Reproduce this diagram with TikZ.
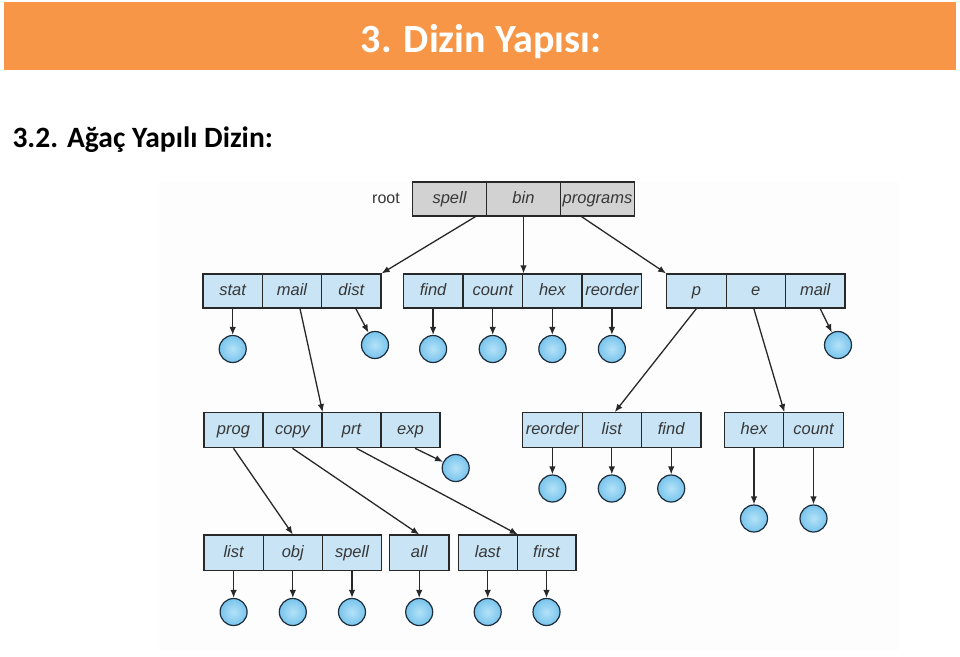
\documentclass[tikz,border=0pt]{standalone}
\usepackage{fontspec}
\setmainfont{Carlito}
\newfontfamily\diafont{Liberation Sans}
\usetikzlibrary{arrows.meta,calc}
\definecolor{barorange}{HTML}{F79646}
\definecolor{cellblue}{RGB}{200,228,245}
\definecolor{cellgray}{RGB}{210,210,210}
\definecolor{ballblue}{RGB}{120,196,236}
\definecolor{ballcore}{RGB}{180,226,248}
\definecolor{lineink}{RGB}{40,40,40}
\definecolor{ballink}{RGB}{30,45,60}
\definecolor{textink}{RGB}{55,55,55}
\definecolor{panel}{RGB}{253,253,253}
\tikzset{
  cell/.style={rectangle,draw=lineink,line width=1.2pt,fill=cellblue,inner sep=0pt,
    minimum width=#1,minimum height=34pt,text height=12pt,text depth=3.5pt,
    font=\diafont\itshape\fontsize{16.5}{18}\selectfont,text=textink},
  cell/.default=59.4pt,
  rootcell/.style={cell=74pt,fill=cellgray},
  ball/.style={circle,draw=ballink,line width=1.2pt,inner sep=0pt,minimum size=27pt,
    inner color=ballcore,outer color=ballblue},
  link/.style={draw=lineink,line width=1.3pt,-{Latex[length=8pt,width=6.5pt]}}
}
\begin{document}
\begin{tikzpicture}[x=1pt,y=-1pt]
\useasboundingbox (0,0) rectangle (960,656);
% header
\fill[barorange] (4,2) rectangle (956,70);
\node[anchor=base,text=white,font=\bfseries\fontsize{40}{44}\selectfont] (title) at (481,52.5) {3. Dizin Yapısı:};
\node[anchor=base west,font=\bfseries\fontsize{29.5}{33}\selectfont] (subtitle) at (9,147) {3.2. Ağaç Yapılı Dizin:};
% panel
\fill[panel] (159,182) rectangle (899,650);
% root row
\node[font=\diafont\fontsize{16}{18}\selectfont,text=textink] (root) at (386,198) {root};
\node[rootcell] (spell) at (449.5,199) {spell};
\node[rootcell] (bin) at (523.5,199) {bin};
\node[rootcell] (programs) at (597.5,199) {programs};
% row 2
\node[cell] (stat) at (232.7,291) {stat};
\node[cell] (mail) at (292.0,291) {mail};
\node[cell] (dist) at (351.3,291) {dist};
\node[cell] (find) at (433.1,291) {find};
\node[cell] (count) at (492.7,291) {count};
\node[cell] (hex) at (552.3,291) {hex};
\node[cell] (reorder) at (611.9,291) {reorder};
\node[cell] (p) at (696.4,291) {p};
\node[cell] (e) at (755.8,291) {e};
\node[cell] (pmail) at (815.2,291) {mail};
% row 3
\node[cell=59pt,minimum height=35pt] (prog) at (233.5,430.2) {prog};
\node[cell=59pt,minimum height=35pt] (copy) at (292.5,430.2) {copy};
\node[cell=59pt,minimum height=35pt] (prt) at (351.5,430.2) {prt};
\node[cell=59pt,minimum height=35pt] (exp) at (410.5,430.2) {exp};
\node[cell,minimum height=35pt] (preorder) at (552.4,430.2) {reorder};
\node[cell,minimum height=35pt] (plist) at (611.8,430.2) {list};
\node[cell,minimum height=35pt] (pfind) at (671.2,430.2) {find};
\node[cell=59.5pt,minimum height=35pt] (ehex) at (754.0,430.2) {hex};
\node[cell=59.5pt,minimum height=35pt] (ecount) at (813.5,430.2) {count};
% row 4
\node[cell=59.2pt,minimum height=35.5pt] (list) at (233.6,552.8) {list};
\node[cell=59.2pt,minimum height=35.5pt] (obj) at (292.8,552.8) {obj};
\node[cell=59.2pt,minimum height=35.5pt] (sspell) at (352.0,552.8) {spell};
\node[cell=59.7pt,minimum height=35.5pt] (all) at (419.2,552.8) {all};
\node[cell=58.8pt,minimum height=35.5pt] (last) at (487.7,552.8) {last};
\node[cell=58.8pt,minimum height=35.5pt] (first) at (546.5,552.8) {first};
% balls
\node[ball] (bstat) at (232.7,349) {};
\node[ball] (bdist) at (375,345) {};
\node[ball] (bfind) at (433.1,349) {};
\node[ball] (bcount) at (492.7,349) {};
\node[ball] (bhex) at (552.3,349) {};
\node[ball] (breorder) at (611.9,349) {};
\node[ball] (bpmail) at (838,345) {};
\node[ball] (bexp) at (455.7,468) {};
\node[ball] (bpreorder) at (552.4,488.5) {};
\node[ball] (bplist) at (611.8,488.5) {};
\node[ball] (bpfind) at (671.2,488.5) {};
\node[ball] (behex) at (754.0,518.5) {};
\node[ball] (becount) at (813.5,518.5) {};
\node[ball] (blist) at (233.6,612) {};
\node[ball] (bobj) at (292.8,612) {};
\node[ball] (bsspell) at (352.0,612) {};
\node[ball] (ball) at (419.2,612) {};
\node[ball] (blast) at (487.7,612) {};
\node[ball] (bfirst) at (546.5,612) {};
% links root -> row 2
\draw[link] ($(spell.south)+(26,0)$) -- (dist.north east);
\draw[link] (bin.south) -- (bin.south |- count.north);
\draw[link] ($(programs.south)+(-16,0)$) -- (p.north west);
% row 2 -> balls / row 3
\draw[link] (stat.south) -- (bstat);
\draw[link] ($(dist.south)+(4.5,0)$) -- (bdist);
\draw[link] (find.south) -- (bfind);
\draw[link] (count.south) -- (bcount);
\draw[link] (hex.south) -- (bhex);
\draw[link] (reorder.south) -- (breorder);
\draw[link] ($(pmail.south)+(5,0)$) -- (bpmail);
\draw[link] ($(mail.south)+(8,0)$) -- (copy.north east);
\draw[link] (p.south) -- ($(plist.north)+(3,0)$);
\draw[link] ($(e.south)+(-2,0)$) -- (ehex.north east);
% row 3 -> balls / row 4
\draw[link] ($(exp.south)+(4.5,0)$) -- (bexp);
\draw[link] (preorder.south) -- (bpreorder);
\draw[link] (plist.south) -- (bplist);
\draw[link] (pfind.south) -- (bpfind);
\draw[link] (ehex.south) -- (behex);
\draw[link] (ecount.south) -- (becount);
\draw[link] (prog.south) -- (obj.north);
\draw[link] (copy.south) -- (all.north);
\draw[link] ($(prt.south)+(5,0)$) -- (last.north east);
% row 4 -> balls
\draw[link] (list.south) -- (blist);
\draw[link] (obj.south) -- (bobj);
\draw[link] (sspell.south) -- (bsspell);
\draw[link] (all.south) -- (ball);
\draw[link] (last.south) -- (blast);
\draw[link] (first.south) -- (bfirst);
\end{tikzpicture}
\end{document}
